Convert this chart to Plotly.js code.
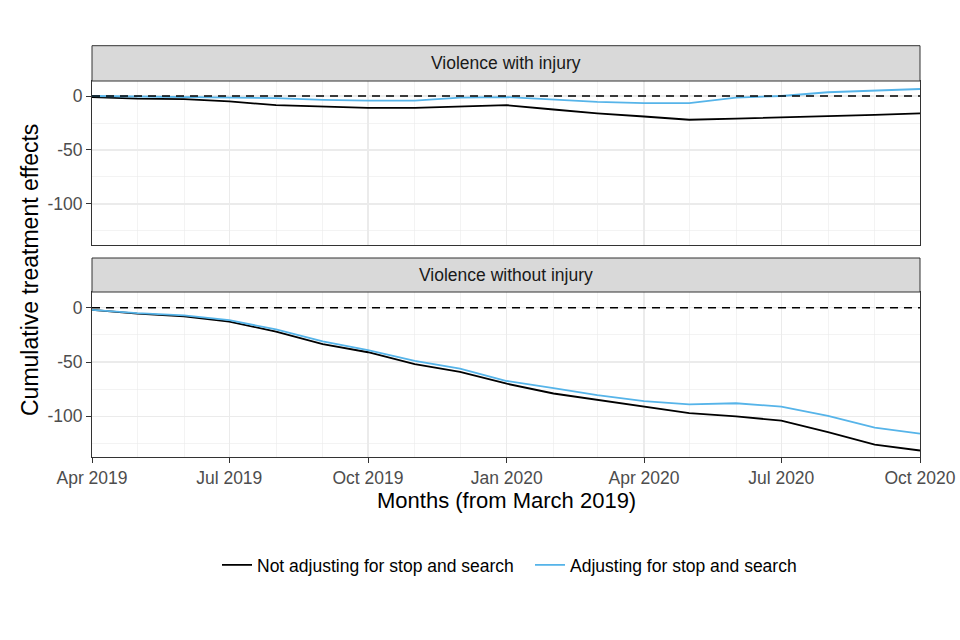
<!DOCTYPE html>
<html>
<head>
<meta charset="utf-8">
<script src="https://cdn.plot.ly/plotly-3.0.1.min.js"></script>
<style>html,body{margin:0;padding:0;background:#fff;}#chart{width:960px;height:640px;}</style>
</head>
<body>
<div id="chart"></div>
<script>
// ---- data ----
const months = ['2019-04-01','2019-05-01','2019-06-01','2019-07-01','2019-08-01','2019-09-01','2019-10-01','2019-11-01','2019-12-01',
  '2020-01-01','2020-02-01','2020-03-01','2020-04-01','2020-05-01','2020-06-01','2020-07-01','2020-08-01','2020-09-01','2020-10-01'];
const seriesNames = ['Not adjusting for stop and search', 'Adjusting for stop and search'];
const panelTitles = ['Violence with injury', 'Violence without injury'];
const withInjuryNotAdj = [-1, -2.5, -2.8, -5, -8.5, -10, -11, -11, -9.5, -8.5, -12.5, -16, -19, -22, -21, -20, -19, -17.5, -16];
const withInjuryAdj    = [0, -0.5, -0.5, -1, -2, -3.5, -4.3, -4.3, -1.5, -1, -3, -5.5, -6.5, -6.5, -1.5, 0, 3.5, 5, 6.5];
const withoutInjuryNotAdj = [-2, -5.5, -8, -12.7, -22, -33.5, -41, -52, -59, -70, -79, -85, -91, -97, -100, -104, -114.5, -126, -131.5];
const withoutInjuryAdj    = [-2, -5, -7, -11.5, -20, -31, -39, -49, -56, -67.5, -74, -80.5, -86, -89, -88, -91, -99.7, -110.5, -116];
const yTickVals = [0, -50, -100];
const yTickText = ['0', '-50', '-100'];

const colBlack = '#000000', colBlue = '#56B4E9';
const font = 'Liberation Sans, Arial, sans-serif';
const H = 640, W = 960;
const px = v => v / W, py = v => 1 - v / H;

const traces = [
  {x: months, y: withInjuryNotAdj, xaxis: 'x', yaxis: 'y', mode: 'lines', name: seriesNames[0], line: {color: colBlack, width: 1.8}, legendgroup: 'a'},
  {x: months, y: withInjuryAdj, xaxis: 'x', yaxis: 'y', mode: 'lines', name: seriesNames[1], line: {color: colBlue, width: 1.8}, legendgroup: 'b'},
  {x: months, y: withoutInjuryNotAdj, xaxis: 'x2', yaxis: 'y2', mode: 'lines', name: seriesNames[0], line: {color: colBlack, width: 1.8}, legendgroup: 'a', showlegend: false},
  {x: months, y: withoutInjuryAdj, xaxis: 'x2', yaxis: 'y2', mode: 'lines', name: seriesNames[1], line: {color: colBlue, width: 1.8}, legendgroup: 'b', showlegend: false}
];

const xDom = [px(92), px(920)];
const topDom = [py(245), py(81)];
const botDom = [py(457), py(292)];
const tickFont = {family: font, size: 17.5, color: '#4D4D4D'};
const grid = '#EBEBEB';

const xBase = {
  type: 'date', domain: xDom, range: ['2019-04-01', '2020-10-01'],
  dtick: 'M3', tick0: '2019-04-01', tickformat: '%b %Y',
  showgrid: true, gridcolor: grid, gridwidth: 1.1,
  minor: {dtick: 'M1', tick0: '2019-04-01', showgrid: true, gridcolor: grid, gridwidth: 0.6},
  showline: true, mirror: true, linecolor: '#333333', linewidth: 1,
  zeroline: false, tickfont: tickFont, fixedrange: true
};
const yBase = {
  tickmode: 'array', tickvals: yTickVals, ticktext: yTickText,
  ticks: 'outside', ticklen: 5, tickcolor: '#333333', tickwidth: 1,
  showgrid: true, gridcolor: grid, gridwidth: 1.1,
  minor: {dtick: 25, tick0: 0, showgrid: true, gridcolor: grid, gridwidth: 0.6},
  showline: true, mirror: true, linecolor: '#333333', linewidth: 1,
  zeroline: false, tickfont: tickFont, fixedrange: true
};

const layout = {
  width: W, height: H,
  margin: {l: 0, r: 0, t: 0, b: 0},
  paper_bgcolor: '#ffffff', plot_bgcolor: '#ffffff',
  font: {family: font, color: '#000'},
  showlegend: true,
  legend: {orientation: 'h', x: px(217), xanchor: 'left', y: py(565), yanchor: 'middle',
    entrywidth: 268, entrywidthmode: 'pixels',
    font: {family: font, size: 17.5, color: '#000'}, traceorder: 'normal', itemwidth: 30},
  xaxis: Object.assign({}, xBase, {anchor: 'y', showticklabels: false, ticks: ''}),
  xaxis2: Object.assign({}, xBase, {anchor: 'y2', matches: 'x', ticks: 'outside', ticklen: 5, tickcolor: '#333333', tickwidth: 1}),
  yaxis: Object.assign({}, yBase, {domain: topDom, anchor: 'x', range: [-138, 13.9]}),
  yaxis2: Object.assign({}, yBase, {domain: botDom, anchor: 'x2', range: [-137.5, 14.5]}),
  shapes: [
    {type: 'line', xref: 'x domain', yref: 'y', x0: 0, x1: 1, y0: 0, y1: 0, line: {color: '#000', width: 1.6, dash: '8px,6px'}},
    {type: 'line', xref: 'x2 domain', yref: 'y2', x0: 0, x1: 1, y0: 0, y1: 0, line: {color: '#000', width: 1.6, dash: '8px,6px'}},
    {type: 'rect', xref: 'paper', yref: 'paper', x0: xDom[0], x1: xDom[1], y0: py(81), y1: py(45.7), fillcolor: '#D9D9D9', line: {color: '#333333', width: 1}},
    {type: 'rect', xref: 'paper', yref: 'paper', x0: xDom[0], x1: xDom[1], y0: py(292), y1: py(258), fillcolor: '#D9D9D9', line: {color: '#333333', width: 1}}
  ],
  annotations: [
    {text: panelTitles[0], xref: 'paper', yref: 'paper', x: (xDom[0] + xDom[1]) / 2, y: py(63.4), showarrow: false, xanchor: 'center', yanchor: 'middle', font: {family: font, size: 17.5, color: '#1A1A1A'}},
    {text: panelTitles[1], xref: 'paper', yref: 'paper', x: (xDom[0] + xDom[1]) / 2, y: py(275), showarrow: false, xanchor: 'center', yanchor: 'middle', font: {family: font, size: 17.5, color: '#1A1A1A'}},
    {text: 'Cumulative treatment effects', xref: 'paper', yref: 'paper', x: px(30), y: py(270), textangle: -90, showarrow: false, xanchor: 'center', yanchor: 'middle', font: {family: font, size: 23, color: '#000'}},
    {text: 'Months (from March 2019)', xref: 'paper', yref: 'paper', x: (xDom[0] + xDom[1]) / 2, y: py(500), showarrow: false, xanchor: 'center', yanchor: 'middle', font: {family: font, size: 22, color: '#000'}}
  ]
};

Plotly.newPlot('chart', traces, layout, {staticPlot: true, displayModeBar: false});
</script>
</body>
</html>
